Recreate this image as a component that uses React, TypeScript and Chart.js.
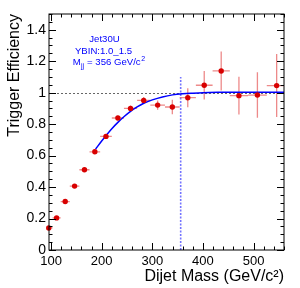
import React, { useEffect, useRef } from "react";
import { Chart, registerables } from "chart.js";

Chart.register(...registerables);

// ---- data ----
const massCenters = [95.5, 111, 128, 146.5, 166, 186.5, 208.5, 232, 257, 283, 310.5, 339.5, 370, 402.5, 436, 471, 507.5, 545.5];
const binLow = [88, 103, 119, 137, 156, 176, 197, 220, 244, 270, 296, 325, 354, 386, 419, 453, 489, 526];
const binHigh = [103, 119, 137, 156, 176, 197, 220, 244, 270, 296, 325, 354, 386, 419, 453, 489, 526, 565];
const efficiency = [0.14, 0.204, 0.308, 0.406, 0.51, 0.624, 0.722, 0.839, 0.9, 0.951, 0.921, 0.909, 0.968, 1.047, 1.138, 0.981, 0.985, 1.045];
const effError = [0.006, 0.007, 0.008, 0.009, 0.01, 0.011, 0.013, 0.015, 0.018, 0.022, 0.03, 0.046, 0.06, 0.09, 0.124, 0.12, 0.145, 0.2];

const fitMass = [188, 200, 210, 220, 232, 245, 257, 270, 284, 300, 320, 340, 360, 380, 400, 430, 470, 520, 560];
const fitEff = [0.641, 0.693, 0.733, 0.771, 0.811, 0.85, 0.881, 0.909, 0.934, 0.954, 0.973, 0.986, 0.993, 0.997, 1.0, 1.002, 1.003, 1.003, 1.003];

const thresholdMass = 356;
const thresholdTop = 1.1;
const unityLevel = 1;

const xTickValues = [100, 200, 300, 400, 500];
const yTickValues = [0, 0.2, 0.4, 0.6, 0.8, 1, 1.2, 1.4];
const xMinorStep = 20;
const yMinorStep = 0.05;

const labelLines = ["Jet30U", "YBIN:1.0_1.5"];
const massLabel = { main: "M", sub: "jj", rest: " = 356 GeV/c", sup: "2" };

const FONT = "'Liberation Sans', Arial, Helvetica, sans-serif";

const rootStyle = {
  id: "rootStyle",
  beforeDatasetsDraw(chart: any) {
    const { ctx, chartArea: a, scales } = chart;
    const x = scales.x;
    const y = scales.y;
    ctx.save();
    ctx.beginPath();
    ctx.rect(a.left, a.top, a.right - a.left, a.bottom - a.top);
    ctx.clip();

    // dotted unity line
    ctx.strokeStyle = "#666";
    ctx.lineWidth = 1;
    ctx.setLineDash([2, 2]);
    const py = Math.round(y.getPixelForValue(unityLevel)) + 0.5;
    ctx.beginPath();
    ctx.moveTo(a.left, py);
    ctx.lineTo(a.right, py);
    ctx.stroke();

    // threshold line
    ctx.strokeStyle = "rgba(70,70,255,0.75)";
    ctx.lineWidth = 1.6;
    ctx.setLineDash([2, 1.5]);
    const px = x.getPixelForValue(thresholdMass);
    ctx.beginPath();
    ctx.moveTo(px, y.getPixelForValue(0));
    ctx.lineTo(px, y.getPixelForValue(thresholdTop));
    ctx.stroke();

    // error bars
    ctx.setLineDash([]);
    ctx.strokeStyle = "rgba(225,60,60,0.6)";
    ctx.lineWidth = 1.3;
    for (let i = 0; i < massCenters.length; i++) {
      const cx = x.getPixelForValue(massCenters[i]);
      const cy = y.getPixelForValue(efficiency[i]);
      ctx.beginPath();
      ctx.moveTo(x.getPixelForValue(binLow[i]), cy);
      ctx.lineTo(x.getPixelForValue(binHigh[i]), cy);
      ctx.moveTo(cx, y.getPixelForValue(efficiency[i] - effError[i]));
      ctx.lineTo(cx, y.getPixelForValue(efficiency[i] + effError[i]));
      ctx.stroke();
    }
    ctx.restore();
  },
  afterDraw(chart: any) {
    const { ctx, chartArea: a, scales } = chart;
    const x = scales.x;
    const y = scales.y;
    ctx.save();
    ctx.strokeStyle = "#000";
    ctx.lineWidth = 1;
    ctx.setLineDash([]);
    ctx.strokeRect(a.left, a.top, a.right - a.left, a.bottom - a.top);

    const major = 7;
    const minor = 3.5;
    ctx.beginPath();
    // x ticks (bottom & top)
    for (let v = x.min; v <= x.max + 1e-9; v += 1) {
      // iterate by integer units, select multiples of minor step
      if (Math.abs(v % xMinorStep) > 1e-9) continue;
      const isMajor = xTickValues.includes(v);
      const len = isMajor ? major : minor;
      const p = Math.round(x.getPixelForValue(v)) + 0.5;
      ctx.moveTo(p, a.bottom);
      ctx.lineTo(p, a.bottom - len);
      ctx.moveTo(p, a.top);
      ctx.lineTo(p, a.top + len);
    }
    // y ticks (left & right)
    const nY = Math.round((y.max - y.min) / yMinorStep);
    for (let k = 0; k <= nY; k++) {
      const v = +(y.min + k * yMinorStep).toFixed(4);
      const isMajor = yTickValues.some((t) => Math.abs(t - v) < 1e-6);
      const len = isMajor ? major : minor;
      const p = Math.round(y.getPixelForValue(v)) + 0.5;
      ctx.moveTo(a.left, p);
      ctx.lineTo(a.left + len, p);
      ctx.moveTo(a.right, p);
      ctx.lineTo(a.right - len, p);
    }
    ctx.stroke();

    // annotation text
    ctx.fillStyle = "#0000ff";
    ctx.textBaseline = "middle";
    ctx.textAlign = "center";
    ctx.font = `9.6px ${FONT}`;
    ctx.fillText(labelLines[0], 104.5, 39.5);
    ctx.fillText(labelLines[1], 103.5, 51);
    ctx.textAlign = "left";
    let tx = 72.7;
    const ty = 62.7;
    ctx.fillText(massLabel.main, tx, ty);
    tx += ctx.measureText(massLabel.main).width;
    ctx.font = `7px ${FONT}`;
    ctx.fillText(massLabel.sub, tx + 0.3, ty + 3.2);
    tx += ctx.measureText(massLabel.sub).width + 0.6;
    ctx.font = `9.6px ${FONT}`;
    ctx.fillText(massLabel.rest, tx, ty);
    tx += ctx.measureText(massLabel.rest).width;
    ctx.font = `7px ${FONT}`;
    ctx.fillText(massLabel.sup, tx + 0.5, ty - 4);
    ctx.restore();
  },
};

export default function App() {
  const canvasRef = useRef<HTMLCanvasElement | null>(null);

  useEffect(() => {
    const canvas = canvasRef.current;
    if (!canvas) return;
    const chart = new Chart(canvas, {
      type: "scatter",
      data: {
        datasets: [
          {
            label: "Efficiency",
            data: massCenters.map((m, i) => ({ x: m, y: efficiency[i] })),
            pointRadius: 2.7,
            pointHoverRadius: 2.7,
            pointStyle: "circle",
            backgroundColor: "#d80000",
            borderWidth: 0,
            clip: false as any,
          },
          {
            label: "Fit",
            data: fitMass.map((m, i) => ({ x: m, y: fitEff[i] })),
            showLine: true,
            borderColor: "#0000ff",
            borderWidth: 1.5,
            pointRadius: 0,
            cubicInterpolationMode: "monotone",
            fill: false,
          } as any,
        ],
      },
      options: {
        animation: false,
        responsive: false,
        devicePixelRatio: 1,
        layout: { padding: { top: 14, right: 16, left: 0, bottom: 0 } },
        plugins: {
          legend: { display: false },
          tooltip: { enabled: false },
        },
        events: [],
        scales: {
          x: {
            type: "linear",
            position: "bottom",
            min: 96,
            max: 560,
            grid: { display: false, drawTicks: false },
            border: { display: false },
            afterBuildTicks: (s: any) => {
              s.ticks = xTickValues.map((v) => ({ value: v }));
            },
            afterFit: (s: any) => {
              s.height = 38;
            },
            ticks: {
              autoSkip: false,
              maxRotation: 0,
              minRotation: 0,
              padding: 4,
              color: "#000",
              font: { family: FONT, size: 13 },
              callback: (v: any) => String(v),
            },
            title: {
              display: true,
              text: "Dijet Mass (GeV/c²)",
              align: "end",
              color: "#000",
              font: { family: FONT, size: 16 },
              padding: { top: 0, bottom: 2 },
            },
          },
          y: {
            type: "linear",
            min: 0,
            max: 1.5,
            grid: { display: false, drawTicks: false },
            border: { display: false },
            afterBuildTicks: (s: any) => {
              s.ticks = yTickValues.map((v) => ({ value: v }));
            },
            afterFit: (s: any) => {
              s.width = 49;
            },
            ticks: {
              autoSkip: false,
              padding: 3,
              color: "#000",
              font: { family: FONT, size: 14 },
              callback: (v: any) => String(+Number(v).toFixed(2)),
            },
            title: {
              display: true,
              text: "Trigger Efficiency",
              align: "end",
              color: "#000",
              font: { family: FONT, size: 16 },
              padding: { top: 5, bottom: 0 },
            },
          },
        },
      },
      plugins: [rootStyle],
    } as any);
    return () => chart.destroy();
  }, []);

  return (
    <div style={{ position: "absolute", left: 0, top: 0, width: 300, height: 288, background: "#fff" }}>
      <canvas ref={canvasRef} width={300} height={288} style={{ display: "block", width: 300, height: 288 }} />
    </div>
  );
}
